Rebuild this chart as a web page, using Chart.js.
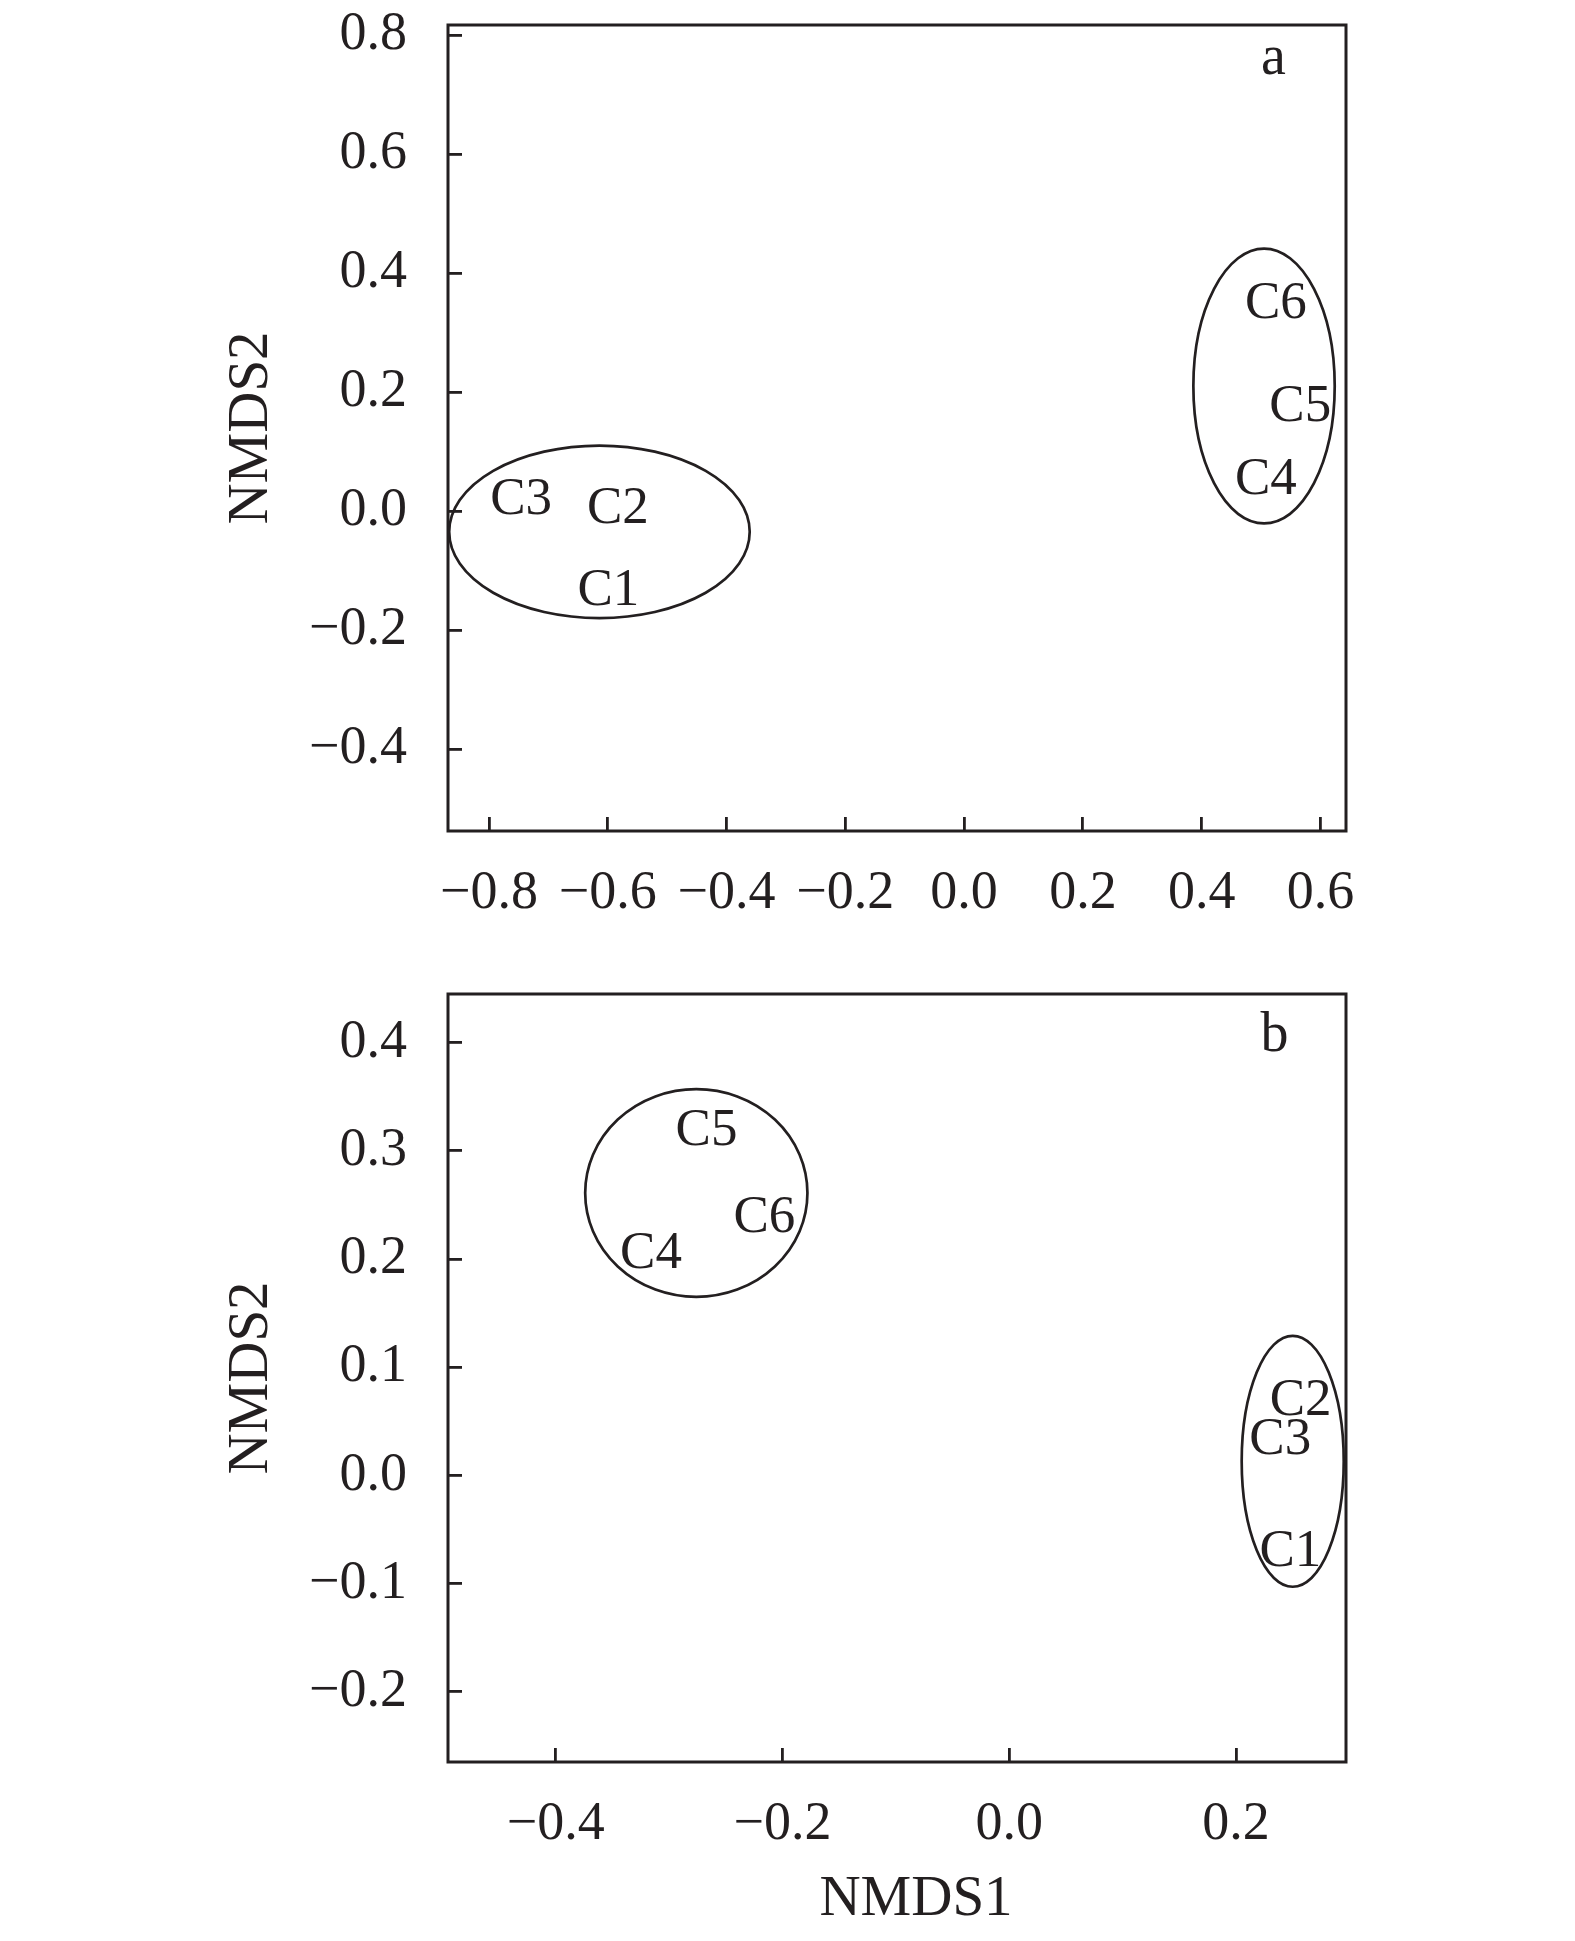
<!DOCTYPE html>
<html lang="en">
<head>
  <meta charset="UTF-8" />
  <title>NMDS ordination</title>
  <script src="https://cdn.jsdelivr.net/npm/chart.js"></script>
  <style>
    body { margin: 0; background: #fff; }
    canvas { position: absolute; left: 0; }
  </style>
</head>
<body>

<canvas id="chartA" width="1575" height="960" style="top:0"></canvas>
<canvas id="chartB" width="1575" height="981" style="top:960px"></canvas>

<script>
  // sample names
  const samples = ["C1", "C2", "C3", "C4", "C5", "C6"];

  // panel a: NMDS scores
  const aNmds1 = [-0.599, -0.583, -0.746, 0.508, 0.566, 0.525];
  const aNmds2 = [-0.134, 0.003, 0.018, 0.052, 0.175, 0.348];
  // panel a: group ellipses (centre and half axes, in NMDS units)
  const aGroupX = [-0.614, 0.505];
  const aGroupY = [-0.035, 0.210];
  const aGroupRx = [0.253, 0.119];
  const aGroupRy = [0.145, 0.231];
  const aXRange = [-0.869, 0.643];
  const aYRange = [-0.538, 0.817];

  // panel b
  const bNmds1 = [0.248, 0.257, 0.239, -0.316, -0.267, -0.216];
  const bNmds2 = [-0.071, 0.069, 0.033, 0.205, 0.318, 0.238];
  const bGroupX = [-0.276, 0.250];
  const bGroupY = [0.261, 0.013];
  const bGroupRx = [0.098, 0.045];
  const bGroupRy = [0.096, 0.116];
  const bXRange = [-0.495, 0.297];
  const bYRange = [-0.265, 0.445];

  const ink = "#231f20";
  const serif = "'Liberation Serif', 'Times New Roman', serif";
  Chart.defaults.font.family = serif;
  Chart.defaults.color = ink;

  const fmt = v => (Math.abs(v) < 1e-9 ? 0 : v).toFixed(1).replace("-", "\u2212");

  // ellipses, point labels, panel letter, x title and the closed frame
  function overlay(groups, letter, letterAt, xTitle) {
    return {
      id: "overlay",
      afterDatasetsDraw(chart) {
        const { ctx, chartArea: a, scales: { x, y } } = chart;
        ctx.save();
        ctx.strokeStyle = ink;
        ctx.fillStyle = ink;

        ctx.lineWidth = 2.7;
        groups.x.forEach((gx, i) => {
          const px = x.getPixelForValue(gx);
          const py = y.getPixelForValue(groups.y[i]);
          const rx = Math.abs(x.getPixelForValue(gx + groups.rx[i]) - px);
          const ry = Math.abs(y.getPixelForValue(groups.y[i] + groups.ry[i]) - py);
          ctx.beginPath();
          ctx.ellipse(px, py, rx, ry, 0, 0, Math.PI * 2);
          ctx.stroke();
        });

        ctx.font = "53px " + serif;
        ctx.textAlign = "center";
        ctx.textBaseline = "middle";
        chart.getDatasetMeta(0).data.forEach((pt, i) => {
          ctx.fillText(samples[i], pt.x, pt.y);
        });

        ctx.font = "56px " + serif;
        ctx.textBaseline = "alphabetic";
        ctx.fillText(letter, x.getPixelForValue(letterAt[0]), y.getPixelForValue(letterAt[1]));

        if (xTitle) {
          ctx.font = "57px " + serif;
          ctx.textBaseline = "middle";
          ctx.fillText(xTitle, (a.left + a.right) / 2 + 19, chart.height - 41);
        }

        ctx.lineWidth = 3;
        ctx.strokeRect(a.left, a.top, a.right - a.left, a.bottom - a.top);
        ctx.restore();
      }
    };
  }

  function axis(range, step, padding, fit) {
    return {
      type: "linear",
      min: range[0],
      max: range[1],
      border: { display: false },
      grid: { drawOnChartArea: false, drawTicks: true, tickLength: -14, color: ink, lineWidth: 2.8 },
      ticks: { stepSize: step, includeBounds: false, padding: padding, color: ink, font: { size: 54 }, callback: fmt },
      afterFit: fit
    };
  }

  function makeChart(id, xs, ys, xRange, yRange, xStep, yStep, groups, letter, letterAt, xTitle, pad, xHeight) {
    const xAxis = axis(xRange, xStep, 44, s => {
      s.height = xHeight;
      s.paddingLeft = 0;
      s.paddingRight = 0;
    });
    xAxis.position = "bottom";
    const yAxis = axis(yRange, yStep, 55, s => {
      s.width = 448;
      s.paddingTop = 0;
      s.paddingBottom = 0;
    });
    yAxis.position = "left";
    yAxis.title = { display: true, text: "NMDS2", color: ink, font: { size: 57 }, padding: { top: 218, bottom: 0 } };

    return new Chart(document.getElementById(id), {
      type: "scatter",
      data: {
        datasets: [{
          data: samples.map((s, i) => ({ x: xs[i], y: ys[i] })),
          pointRadius: 0,
          showLine: false
        }]
      },
      options: {
        responsive: false,
        animation: false,
        layout: { padding: pad },
        plugins: { legend: { display: false }, tooltip: { enabled: false } },
        scales: { x: xAxis, y: yAxis }
      },
      plugins: [overlay(groups, letter, letterAt, xTitle)]
    });
  }

  makeChart("chartA", aNmds1, aNmds2, aXRange, aYRange, 0.2, 0.2,
    { x: aGroupX, y: aGroupY, rx: aGroupRx, ry: aGroupRy }, "a", [0.521, 0.734],
    null, { top: 25, right: 229, left: 0, bottom: 0 }, 129);

  makeChart("chartB", bNmds1, bNmds2, bXRange, bYRange, 0.2, 0.1,
    { x: bGroupX, y: bGroupY, rx: bGroupRx, ry: bGroupRy }, "b", [0.234, 0.392],
    "NMDS1", { top: 34, right: 229, left: 0, bottom: 0 }, 179);
</script>

</body>
</html>
